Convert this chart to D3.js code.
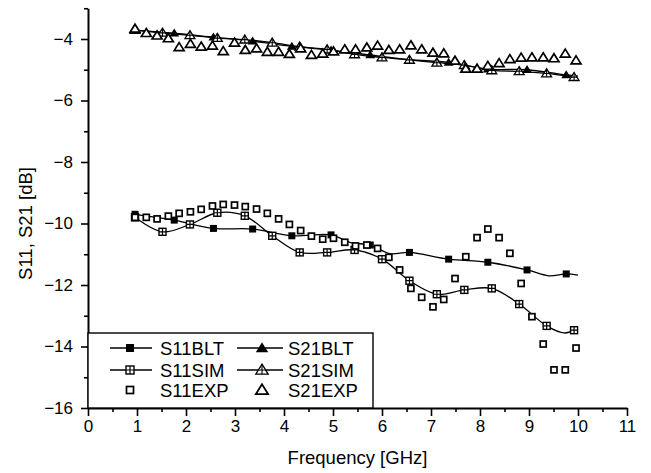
<!DOCTYPE html>
<html>
<head>
<meta charset="utf-8">
<script src="https://cdn.jsdelivr.net/npm/d3@7"></script>
<style>
body { margin: 0; background: #fff; }
svg { display: block; font-family: Arial, "Liberation Sans", Helvetica, sans-serif; }
</style>
</head>
<body>
<svg id="chart" width="651" height="473"></svg>
<script>
// ---- data ----
var xTicks = [0, 1, 2, 3, 4, 5, 6, 7, 8, 9, 10, 11];
var xMinor = [0.5, 1.5, 2.5, 3.5, 4.5, 5.5, 6.5, 7.5, 8.5, 9.5, 10.5];
var yTicks = [-16, -14, -12, -10, -8, -6, -4];
var yMinor = [-15, -13, -11, -9, -7, -5, -3];

// marker positions of the model curves (GHz)
var bltFreq = [0.96, 1.76, 2.56, 3.36, 4.16, 4.96, 5.76, 6.56, 7.36, 8.16, 8.96, 9.76];
var simFreq = [0.96, 1.52, 2.08, 2.64, 3.20, 3.76, 4.32, 4.88, 5.44, 6.00, 6.56, 7.12, 7.68, 8.24, 8.80, 9.36, 9.92];

var s11Blt = [-9.70, -9.89, -10.16, -10.18, -10.40, -10.37, -10.70, -10.94, -11.16, -11.26, -11.51, -11.64];
var s11BltExtra = [[5.36, -10.62], [6.16, -10.98], [9.40, -11.70], [10.0, -11.68]];
var s11Sim = [-9.80, -10.27, -10.03, -9.65, -9.75, -10.40, -10.94, -10.94, -10.86, -11.16, -11.86, -12.30, -12.16, -12.11, -12.62, -13.33, -13.47];
var s11SimExtra = [[9.72, -13.56]];

var s21Blt = [-3.71, -3.81, -3.94, -4.07, -4.24, -4.36, -4.52, -4.67, -4.76, -4.98, -5.00, -5.17];
var s21BltExtra = [[10.0, -5.21]];
var s21Sim = [-3.71, -3.80, -3.88, -3.97, -4.02, -4.12, -4.25, -4.34, -4.50, -4.60, -4.68, -4.77, -4.85, -5.02, -5.05, -5.12, -5.24];
var s21SimExtra = [];

// measured points
var expFreq = [0.96, 1.19, 1.41, 1.64, 1.86, 2.09, 2.31, 2.54, 2.76, 2.99,
               3.21, 3.44, 3.66, 3.89, 4.11, 4.34, 4.56, 4.79, 5.01, 5.24,
               5.46, 5.69, 5.91, 6.14, 6.36, 6.59, 6.81, 7.04, 7.26, 7.49,
               7.71, 7.94, 8.16, 8.39, 8.61, 8.84, 9.06, 9.29, 9.51, 9.74, 9.96];
var s11Exp = [-9.80, -9.80, -9.85, -9.76, -9.67, -9.62, -9.54, -9.43, -9.38, -9.40,
              -9.45, -9.53, -9.67, -9.85, -10.03, -10.23, -10.41, -10.51, -10.48, -10.61,
              -10.73, -10.70, -10.81, -11.10, -11.51, -12.11, -12.40, -12.71, -12.47, -11.79,
              -11.08, -10.46, -10.18, -10.46, -10.97, -11.95, -13.03, -13.92, -14.76, -14.76, -14.05];
var s21Exp = [-3.67, -3.81, -3.89, -3.98, -4.27, -4.16, -4.25, -4.22, -4.40, -4.12,
              -4.36, -4.31, -4.42, -4.42, -4.49, -4.31, -4.52, -4.48, -4.41, -4.34,
              -4.34, -4.28, -4.22, -4.36, -4.34, -4.21, -4.34, -4.45, -4.47, -4.71,
              -4.97, -4.97, -4.88, -4.79, -4.66, -4.61, -4.60, -4.60, -4.63, -4.48, -4.70];

var legendItems = [
  { label: "S11BLT", marker: "sqFill", line: true, col: 0, row: 0 },
  { label: "S21BLT", marker: "triFill", line: true, col: 1, row: 0 },
  { label: "S11SIM", marker: "sqCross", line: true, col: 0, row: 1 },
  { label: "S21SIM", marker: "triCross", line: true, col: 1, row: 1 },
  { label: "S11EXP", marker: "sqOpen", line: false, col: 0, row: 2 },
  { label: "S21EXP", marker: "triOpen", line: false, col: 1, row: 2 }
];

// ---- chart ----
var svg = d3.select('#chart');
var x = d3.scaleLinear().domain([0, 11]).range([88, 627]);
var y = d3.scaleLinear().domain([-16, -3]).range([408, 8.25]);

function pairs(fs, vs) { return fs.map(function (f, i) { return [f, vs[i]]; }); }
function knots(fs, vs, extra) {
  return pairs(fs, vs).concat(extra).sort(function (a, b) { return a[0] - b[0]; });
}

// axes
var gx = svg.append('g').attr('transform', 'translate(0,' + y(-16) + ')')
  .call(d3.axisBottom(x).tickValues(xTicks).tickSize(8).tickSizeOuter(0).tickPadding(4).tickFormat(d3.format('d')));
svg.append('g').attr('transform', 'translate(0,' + y(-16) + ')')
  .call(d3.axisBottom(x).tickValues(xMinor).tickSize(4).tickSizeOuter(0).tickFormat(''))
  .select('.domain').remove();
var gy = svg.append('g').attr('transform', 'translate(' + x(0) + ',0)')
  .call(d3.axisLeft(y).tickValues(yTicks).tickSize(7).tickSizeOuter(0).tickPadding(8).tickFormat(d3.format('d')));
svg.append('g').attr('transform', 'translate(' + x(0) + ',0)')
  .call(d3.axisLeft(y).tickValues(yMinor).tickSize(4).tickSizeOuter(0).tickFormat(''))
  .select('.domain').remove();

svg.selectAll('.domain').attr('stroke', '#000').attr('stroke-width', 2);
svg.selectAll('.tick line').attr('stroke', '#000').attr('stroke-width', 1.6);
svg.selectAll('.tick text').attr('fill', '#000').style('font-size', '17px').style('font-family', null);
gx.selectAll('text').attr('font-family', null);
gy.selectAll('text').attr('font-family', null);
svg.selectAll('g').attr('font-family', null).attr('font-size', null);

svg.append('text')
  .attr('x', (x(0) + x(11)) / 2).attr('y', 464)
  .attr('text-anchor', 'middle').style('font-size', '18.5px')
  .text('Frequency [GHz]');
svg.append('text')
  .attr('transform', 'translate(26,' + y(-10) + ') rotate(-90)')
  .attr('text-anchor', 'middle').attr('dy', '0.35em').style('font-size', '18.5px')
  .text('S11, S21 [dB]');

// curves
var line = d3.line()
  .x(function (d) { return x(d[0]); })
  .y(function (d) { return y(d[1]); })
  .curve(d3.curveCatmullRom.alpha(0.5));

var curves = [
  knots(bltFreq, s11Blt, s11BltExtra),
  knots(simFreq, s11Sim, s11SimExtra),
  knots(bltFreq, s21Blt, s21BltExtra),
  knots(simFreq, s21Sim, s21SimExtra)
];
svg.append('g').selectAll('path').data(curves).enter().append('path')
  .attr('d', line).attr('fill', 'none').attr('stroke', '#000').attr('stroke-width', 1.3);

// markers
function marker(sel, type, cx, cy, s) {
  var g = sel.append('g').attr('transform', 'translate(' + cx + ',' + cy + ')');
  var h = s / 2;
  if (type === 'sqFill') {
    g.append('rect').attr('x', -h).attr('y', -h).attr('width', s).attr('height', s).attr('fill', '#000');
  } else if (type === 'sqCross') {
    g.append('rect').attr('x', -h).attr('y', -h).attr('width', s).attr('height', s)
      .attr('fill', '#fff').attr('stroke', '#000').attr('stroke-width', 1.4);
    g.append('path').attr('d', 'M' + (-h) + ',0H' + h + 'M0,' + (-h) + 'V' + h)
      .attr('stroke', '#000').attr('stroke-width', 1.2);
  } else if (type === 'sqOpen') {
    g.append('rect').attr('x', -h + 0.5).attr('y', -h + 0.5).attr('width', s - 1).attr('height', s - 1)
      .attr('fill', '#fff').attr('stroke', '#000').attr('stroke-width', 1.7);
  } else {
    var w = s * 0.62, tt = -s * 0.58, tb = s * 0.42;
    var tri = 'M0,' + tt + 'L' + w + ',' + tb + 'L' + (-w) + ',' + tb + 'Z';
    if (type === 'triFill') {
      g.append('path').attr('d', tri).attr('fill', '#000');
    } else if (type === 'triCross') {
      g.append('path').attr('d', tri).attr('fill', '#fff').attr('stroke', '#000').attr('stroke-width', 1.3);
      g.append('path').attr('d', 'M0,' + tt + 'V' + tb + 'M' + (-w * 0.6) + ',0H' + (w * 0.6))
        .attr('stroke', '#000').attr('stroke-width', 1.1);
    } else {
      g.append('path').attr('d', tri).attr('fill', '#fff').attr('stroke', '#000').attr('stroke-width', 1.7);
    }
  }
}

var gm = svg.append('g');
pairs(bltFreq, s11Blt).forEach(function (d) { marker(gm, 'sqFill', x(d[0]), y(d[1]), 7); });
pairs(simFreq, s11Sim).forEach(function (d) { marker(gm, 'sqCross', x(d[0]), y(d[1]), 7); });
pairs(bltFreq, s21Blt).forEach(function (d) { marker(gm, 'triFill', x(d[0]), y(d[1]), 8); });
pairs(simFreq, s21Sim).forEach(function (d) { marker(gm, 'triCross', x(d[0]), y(d[1]), 8); });
pairs(expFreq, s11Exp).forEach(function (d) { marker(gm, 'sqOpen', x(d[0]), y(d[1]), 7); });
pairs(expFreq, s21Exp).forEach(function (d) { marker(gm, 'triOpen', x(d[0]), y(d[1]), 8); });

// legend
var lg = svg.append('g');
lg.append('rect').attr('x', x(0)).attr('y', 333).attr('width', 373 - x(0)).attr('height', y(-16) - 333)
  .attr('fill', '#fff').attr('stroke', '#000').attr('stroke-width', 1.4);
var colX = [{ l0: 110, l1: 152, m: 130, t: 160 }, { l0: 237, l1: 283, m: 262, t: 288 }];
var rowY = [348, 370, 390];
legendItems.forEach(function (it) {
  var c = colX[it.col], ry = rowY[it.row];
  if (it.line) {
    lg.append('line').attr('x1', c.l0).attr('x2', c.l1).attr('y1', ry).attr('y2', ry)
      .attr('stroke', '#000').attr('stroke-width', 1.3);
  }
  marker(lg, it.marker, c.m, ry, it.marker.indexOf('tri') === 0 ? 10 : 8);
  lg.append('text').attr('x', c.t).attr('y', ry).attr('dy', '0.36em')
    .style('font-size', '18.5px').text(it.label);
});
</script>
</body>
</html>
